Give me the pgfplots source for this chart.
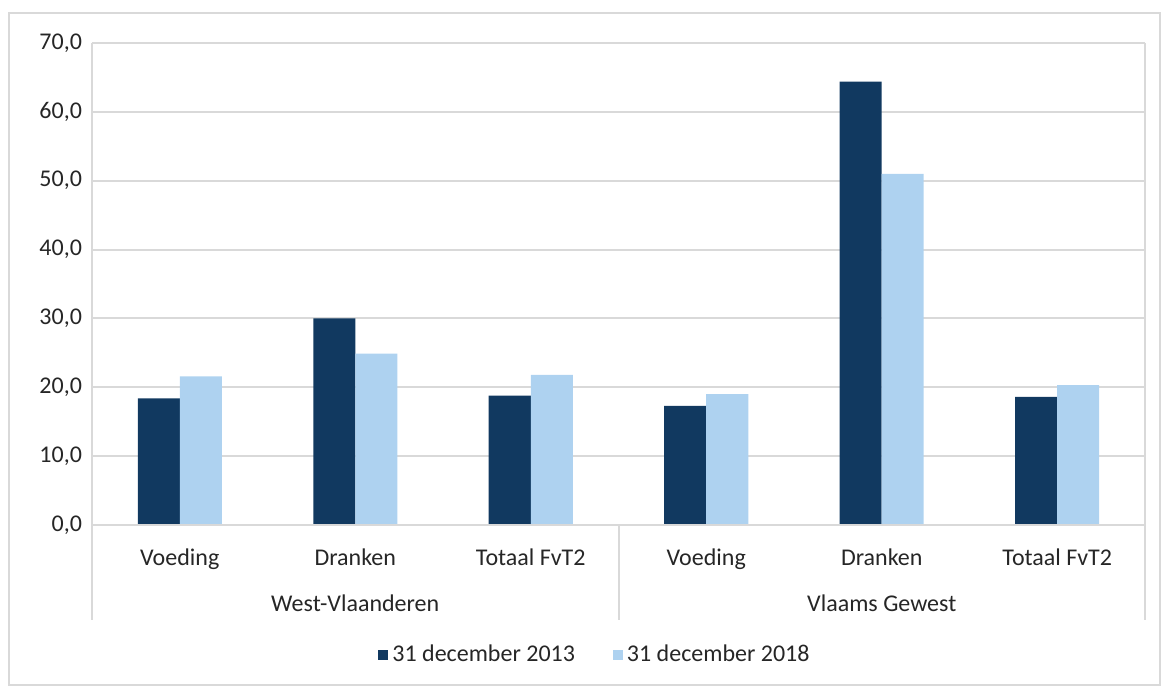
\documentclass[border=0pt]{standalone}
\usepackage{pgfplots}
\pgfplotsset{compat=1.18}
\usepackage{fontspec}
\setmainfont{Carlito}
\definecolor{darkbar}{HTML}{113960}
\definecolor{lightbar}{HTML}{AED2F0}
\definecolor{gridgray}{HTML}{D9D9D9}
\definecolor{txt}{HTML}{262626}
\begin{document}
\begin{tikzpicture}
\useasboundingbox (0,0) rectangle (581pt,343pt);
\draw[gridgray, line width=1pt] (4.5pt,0.5pt) rectangle (580pt,336.5pt);
\begin{axis}[
  at={(46pt,80.5pt)}, anchor=south west,
  scale only axis, width=526.5pt, height=241pt,
  xmin=0, xmax=6, ymin=0, ymax=70,
  ytick={0,10,...,70},
  xtick={0.5,1.5,2.5,3.5,4.5,5.5},
  xticklabels={Voeding,Dranken,Totaal FvT2,Voeding,Dranken,Totaal FvT2},
  major tick length=0pt,
  ymajorgrids, grid style={gridgray, line width=1pt},
  axis line style={draw=none},
  font=\fontsize{12}{14}\selectfont\color{txt},
  ticklabel style={font=\fontsize{12}{14}\selectfont\color{txt}},
  xticklabel style={anchor=base, yshift=-20pt},
  yticklabel style={xshift=-1.5pt},
  /pgf/number format/.cd, fixed, fixed zerofill, precision=1, use comma, assume math mode=true,
  /pgfplots/.cd,
  ybar, bar width=21pt,
  clip=false,
  legend columns=2,
  legend style={at={(0.4786,-0.2697)}, anchor=center, draw=none, fill=none,
    font=\fontsize{12}{14}\selectfont\color{txt},
    /tikz/every even column/.append style={column sep=17pt}},
  legend image code/.code={\fill[#1] (0pt,-2.5pt) rectangle (5pt,2.5pt);},
]
\addplot[draw=none, fill=darkbar, bar shift=-10.5pt] coordinates {
  (0.5,18.4) (1.5,30.0) (2.5,18.8) (3.5,17.3) (4.5,64.4) (5.5,18.6)};
\addplot[draw=none, fill=lightbar, bar shift=10.5pt] coordinates {
  (0.5,21.6) (1.5,24.9) (2.5,21.8) (3.5,19.0) (4.5,51.0) (5.5,20.3)};
\legend{31 december 2013, 31 december 2018}
\draw[gridgray, line width=1pt] (axis cs:0,70) -- (axis cs:0,0) -- ++(0,-47.5pt);
\draw[gridgray, line width=1pt] (axis cs:6,70) -- (axis cs:6,0) -- ++(0,-47.5pt);
\draw[gridgray, line width=1pt] (axis cs:3,0) -- ++(0,-47.5pt);
\draw[gridgray, line width=1pt] (axis cs:0,0) -- (axis cs:6,0);
\node[anchor=base] at ([yshift=-43pt]axis cs:1.5,0) {West-Vlaanderen};
\node[anchor=base] at ([yshift=-43pt]axis cs:4.5,0) {Vlaams Gewest};
\end{axis}
\end{tikzpicture}
\end{document}
